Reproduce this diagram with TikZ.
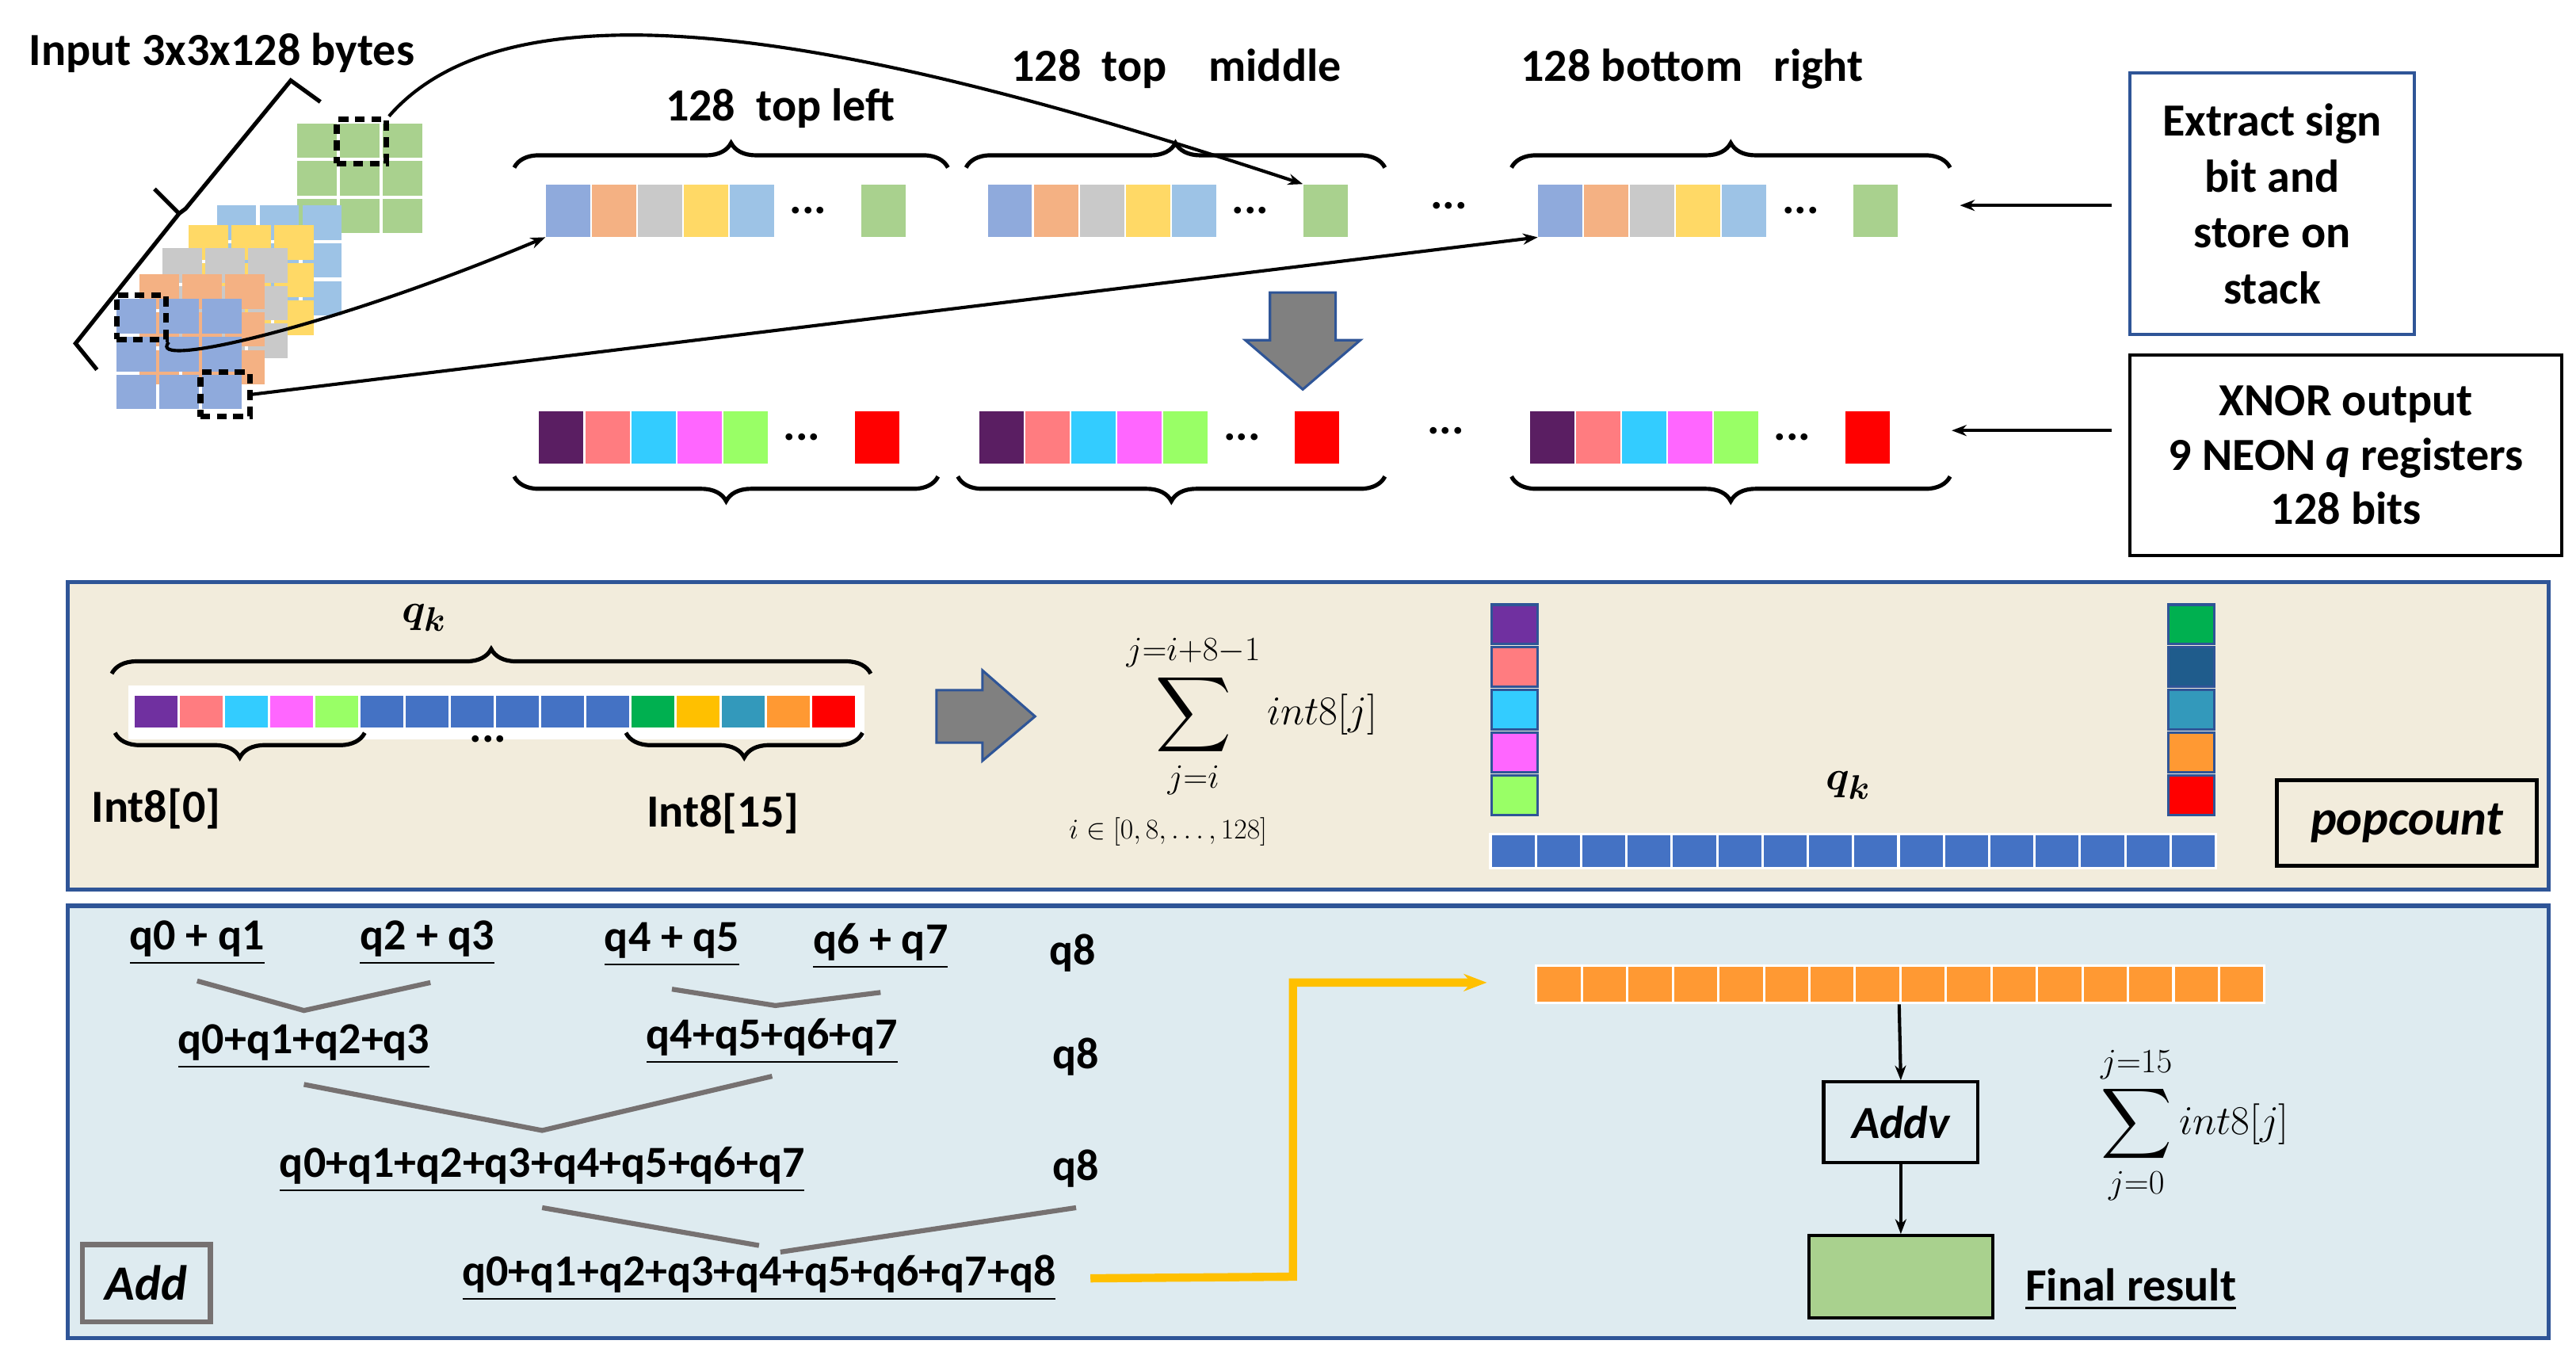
\documentclass[tikz,border=0pt]{standalone}
\usepackage{amsmath, amssymb}
\usepackage{fontspec}
\setmainfont{Carlito}
\usetikzlibrary{arrows.meta, decorations.pathreplacing, positioning}

\definecolor{pBlue}{HTML}{8FAADC}
\definecolor{pOrange}{HTML}{F4B183}
\definecolor{pGray}{HTML}{C9C9C9}
\definecolor{pYellow}{HTML}{FFD966}
\definecolor{pLight}{HTML}{9DC3E6}
\definecolor{pGreen}{HTML}{A9D18E}
\definecolor{xPurple}{HTML}{5A1E62}
\definecolor{xPink}{HTML}{FF7C80}
\definecolor{xCyan}{HTML}{33CCFF}
\definecolor{xMagenta}{HTML}{FF66FF}
\definecolor{xLime}{HTML}{99FF66}
\definecolor{qPurple}{HTML}{7030A0}
\definecolor{qBlue}{HTML}{4472C4}
\definecolor{qGreen}{HTML}{00B050}
\definecolor{qGold}{HTML}{FFC000}
\definecolor{qTeal}{HTML}{3399BB}
\definecolor{qNavy}{HTML}{1F5C8C}
\definecolor{qOrange}{HTML}{FF9933}
\definecolor{frameBlue}{HTML}{2F5597}
\definecolor{popBg}{HTML}{F2ECDC}
\definecolor{addBg}{HTML}{DEEBF0}
\definecolor{lineGray}{HTML}{767171}

\tikzset{
    txt/.style={font=\fontsize{28}{32}\selectfont\bfseries, inner sep=1pt},
    cell/.style={minimum width=27pt, minimum height=32pt, inner sep=0pt, anchor=north west},
    qcell/.style={minimum width=26pt, minimum height=21pt, inner sep=0pt, draw=white, line width=1.5pt},
    dashbox/.style={draw, line width=3.5pt, dash pattern=on 6pt off 4pt, minimum width=30pt, minimum height=27pt, inner sep=0pt},
    brc/.style={decorate, decoration={brace, amplitude=15pt}, line width=2.5pt},
    grayline/.style={lineGray, line width=3pt},
    arr/.style={-{Stealth[length=9pt]}, line width=2pt},
    uline/.style={txt, font=\fontsize{27}{31}\selectfont\bfseries}
}

\begin{document}
\begin{tikzpicture}[x=1pt, y=-1pt]
    \useasboundingbox (0,0) rectangle (1568,820);

    % input stack
    \node[txt] (input) at (135,32) {Input 3x3x128 bytes};
    \foreach \c/\x/\y in {pGreen/181/75, pLight/132/125, pYellow/115/137, pGray/99/151, pOrange/85/167, pBlue/71/182}
        \foreach \i in {0,1,2}
            \foreach \j in {0,1,2}
                \fill[\c] (\x+\i*26,\y+\j*23) rectangle ++(24,21);
    \node[dashbox] (dTL) at (220,86) {};
    \node[dashbox] (dBL) at (86,193) {};
    \node[dashbox] (dBR) at (137,240) {};
    \draw[line width=2.5pt] (59,225) -- (46,209) -- (109,130) -- (94,115)
        (109,130) -- (113,127) -- (177,49) -- (195,62);

    % sign-bit rows
    \foreach \g/\x in {1/332, 2/601, 3/936} {
        \foreach \c [count=\i from 0] in {pBlue,pOrange,pGray,pYellow,pLight}
            \node[cell, fill=\c] (t\g c\i) at (\x+\i*28,112) {};
        \node[txt] at (\x+160,128) {...};
        \node[cell, fill=pGreen] (t\g e) at (\x+192,112) {};
    }
    \node[txt] at (882,125) {...};
    \foreach \g/\x in {1/328, 2/596, 3/931} {
        \foreach \c [count=\i from 0] in {xPurple,xPink,xCyan,xMagenta,xLime}
            \node[cell, fill=\c] (x\g c\i) at (\x+\i*28,250) {};
        \node[txt] at (\x+160,266) {...};
        \node[cell, fill=red] (x\g e) at (\x+192,250) {};
    }
    \node[txt] at (880,262) {...};

    % braces
    \draw[brc] (313,102) -- (577,102);
    \draw[brc] (588,102) -- (843,102);
    \draw[brc] (920,102) -- (1187,102);
    \draw[brc] (571,290) -- (313,290);
    \draw[brc] (843,290) -- (583,290);
    \draw[brc] (1187,290) -- (920,290);
    \node[txt] (lblTL) at (475,66) {128\ \ top left};
    \node[txt] (lblTM) at (716,42) {128\ \ top \ \ \ middle};
    \node[txt] (lblBR) at (1030,42) {128 bottom \ \ right};

    % connectors from input
    \draw[arr] (dTL.north east) .. controls (320,-25) and (560,35) .. (t2e.north west);
    \draw[arr] (dBL.south east) .. controls (88,225) and (200,200) .. (t1c0.south west);
    \draw[arr] (dBR.east) -- (t3c0.south west);

    % gray down arrow
    \draw[frameBlue, fill=gray, line width=1.5pt] (773,178) -- (813,178) -- (813,207) -- (828,207)
        -- (793,237) -- (758,207) -- (773,207) -- cycle;

    % side boxes
    \node[txt, draw=frameBlue, line width=2pt, align=center, minimum width=173pt, minimum height=159pt]
        (extract) at (1383,124) {Extract sign\\[2pt]bit and\\[2pt]store on\\[2pt]stack};
    \node[txt, draw, line width=2pt, align=center, minimum width=263pt, minimum height=122pt]
        (xnor) at (1428,277) {XNOR output\\[1pt]9 NEON \textit{q} registers\\[1pt]128 bits};
    \coordinate (eIn) at (1193,125);
    \coordinate (xIn) at (1188,262);
    \draw[arr] (extract.west |- eIn) ++(-10,0) -- (eIn);
    \draw[arr] (xnor.west |- xIn) ++(-10,0) -- (xIn);

    % popcount panel
    \node[draw=frameBlue, fill=popBg, line width=2.5pt, minimum width=1510pt, minimum height=187pt, anchor=north west]
        (popPanel) at (40,353) {};
    \fill[white] (78,417) rectangle (526,450);
    \foreach \c [count=\i from 0] in {qPurple,xPink,xCyan,xMagenta,xLime,qBlue,qBlue,qBlue,qBlue,qBlue,qBlue,qGreen,qGold,qTeal,qOrange,red}
        \node[qcell, fill=\c, minimum width=27.5pt] (b\i) at (95+\i*27.5,433) {};
    \draw[brc] (68,410) -- (530,410);
    \node[txt] (qk1) at (258,376) {\fontsize{32}{36}\selectfont$\boldsymbol{q_k}$};
    \draw[brc] (222,446) -- (70,446);
    \draw[brc] (525,446) -- (381,446);
    \node[txt] (i0) at (95,492) {Int8[0]};
    \node[txt] (i15) at (440,495) {Int8[15]};
    \node[txt] at (297,450) {...};
    \draw[frameBlue, fill=gray, line width=1.5pt] (570,420) -- (598,420) -- (598,408) -- (630,436)
        -- (598,463) -- (598,452) -- (570,452) -- cycle;
    \node (sum1) at (762,436) {\fontsize{32}{36}\selectfont $\displaystyle\sum_{j=i}^{j=i+8-1} int8[j]$};
    \node (sumIdx) at (711,506) {\fontsize{19}{22}\selectfont $i\in[0,8,\ldots,128]$};
    \foreach \c [count=\i from 0] in {qPurple,xPink,xCyan,xMagenta,xLime}
        \node[qcell, draw=frameBlue, fill=\c, minimum width=28pt, minimum height=24pt] (l\i) at (922,380+\i*26) {};
    \foreach \c [count=\i from 0] in {qGreen,qNavy,qTeal,qOrange,red}
        \node[qcell, draw=frameBlue, fill=\c, minimum width=28pt, minimum height=24pt] (r\i) at (1334,380+\i*26) {};
    \foreach \i in {0,...,15}
        \node[qcell, fill=qBlue, minimum width=27.6pt] (h\i) at (921+\i*27.6,518) {};
    \node[txt] (qk2) at (1125,478) {\fontsize{32}{36}\selectfont$\boldsymbol{q_k}$};
    \node[txt, draw, line width=2.5pt, minimum width=158pt, minimum height=52pt] (pop) at (1465,501)
        {\fontsize{30}{34}\selectfont\bfseries\itshape popcount};

    % add panel
    \node[draw=frameBlue, fill=addBg, line width=2.5pt, minimum width=1510pt, minimum height=263pt, anchor=north west]
        (addPanel) at (40,550) {};
    \node[uline] (s01) at (120,574) {\underline{q0 + q1}};
    \node[uline] (s23) at (260,574) {\underline{q2 + q3}};
    \node[uline] (s45) at (409,575) {\underline{q4 + q5}};
    \node[uline] (s67) at (536,576) {\underline{q6 + q7}};
    \node[uline] (q8a) at (653,580) {q8};
    \node[uline] (s03) at (185,637) {\underline{q0+q1+q2+q3}};
    \node[uline] (s47) at (470,634) {\underline{q4+q5+q6+q7}};
    \node[uline] (q8b) at (655,643) {q8};
    \node[uline] (s07) at (330,712) {\underline{q0+q1+q2+q3+q4+q5+q6+q7}};
    \node[uline] (q8c) at (655,711) {q8};
    \node[uline] (s08) at (462,778) {\underline{q0+q1+q2+q3+q4+q5+q6+q7+q8}};
    \draw[grayline] (120,597) -- (185,615) -- (262,598);
    \draw[grayline] (409,602) -- (472,612) -- (536,604);
    \draw[grayline] (185,660) -- (330,688) -- (470,655);
    \draw[grayline] (330,735) -- (462,758);
    \draw[grayline] (475,762) -- (655,735);
    \node[txt, draw=lineGray, line width=3pt, minimum width=78pt, minimum height=47pt] (addBox) at (89,781)
        {\fontsize{30}{34}\selectfont\bfseries\itshape Add};

    \foreach \i in {0,...,15}
        \node[qcell, fill=qOrange, minimum width=27.7pt, minimum height=23pt] (o\i) at (949+\i*27.7,599) {};
    \coordinate (yIn) at (905,598);
    \draw[qGold, line width=5pt, -{Stealth[length=14pt]}] (s08.east) ++(20,0) -- (787,777) -- (787,598) -- (yIn);
    \node[txt, draw, line width=2pt, minimum width=94pt, minimum height=49pt] (addv) at (1157,683)
        {\fontsize{28}{32}\selectfont\bfseries\itshape Addv};
    \node[draw, fill=pGreen, line width=2pt, minimum width=112pt, minimum height=50pt] (final) at (1157,777) {};
    \node[txt] (finalLbl) at (1297,785) {\underline{Final result}};
    \draw[arr] (o8.south west) -- (addv.north);
    \draw[arr] (addv) -- (final);
    \node (sum2) at (1336,685) {\fontsize{30}{34}\selectfont $\displaystyle\sum_{j=0}^{j=15} int8[j]$};
\end{tikzpicture}
\end{document}
